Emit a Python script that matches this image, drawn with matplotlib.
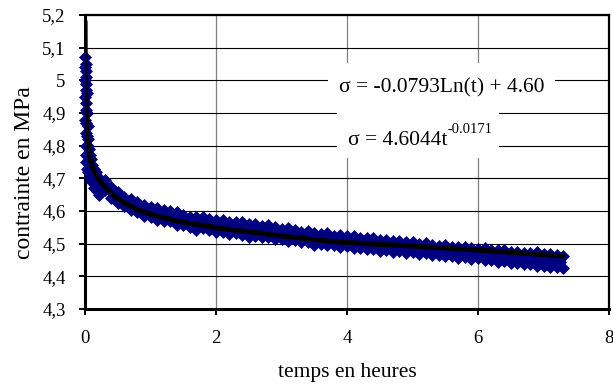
import matplotlib
matplotlib.use('Agg')
import matplotlib.pyplot as plt
from matplotlib.patches import Rectangle
from matplotlib.ticker import FuncFormatter, MultipleLocator

plt.rcParams['font.family'] = ['Liberation Serif', 'DejaVu Serif']

# measured stress (MPa) vs time (hours), read off the chart
# first minutes: steep drop near t = 0
T_START = [0.00, 0.01, 0.00, 0.02, 0.01, 0.00, 0.02, 0.01, 0.03, 0.00, 0.02, 0.01,
           0.03, 0.00, 0.02, 0.04, 0.01, 0.03, 0.05, 0.02, 0.04, 0.06, 0.01, 0.03,
           0.07, 0.02, 0.05, 0.09, 0.03, 0.07, 0.11, 0.05, 0.09, 0.13, 0.08, 0.12,
           0.16, 0.11, 0.15, 0.19, 0.14, 0.18, 0.22, 0.18, 0.22, 0.26, 0.22, 0.26]
S_START = [5.07, 5.05, 5.04, 5.03, 5.01, 5.00, 4.99, 4.97, 4.96, 4.95, 4.93, 4.91,
           4.90, 4.88, 4.87, 4.86, 4.84, 4.83, 4.82, 4.80, 4.80, 4.79, 4.77, 4.77,
           4.77, 4.75, 4.75, 4.76, 4.73, 4.74, 4.74, 4.72, 4.72, 4.73, 4.70, 4.71,
           4.72, 4.69, 4.69, 4.70, 4.67, 4.68, 4.70, 4.66, 4.67, 4.69, 4.65, 4.66]

# rest of the test: upper edge, lower edge and middle of the point cloud
T_EDGE = [0.3, 0.4, 0.5, 0.6, 0.7, 0.8, 0.9, 1.0, 1.1, 1.2, 1.3, 1.4, 1.5, 1.6, 1.7,
          1.8, 1.9, 2.0, 2.1, 2.2, 2.3, 2.4, 2.5, 2.6, 2.7, 2.8, 2.9, 3.0, 3.1, 3.2,
          3.3, 3.4, 3.5, 3.6, 3.7, 3.8, 3.9, 4.0, 4.1, 4.2, 4.3, 4.4, 4.5, 4.6, 4.7,
          4.8, 4.9, 5.0, 5.1, 5.2, 5.3, 5.4, 5.5, 5.6, 5.7, 5.8, 5.9, 6.0, 6.1, 6.2,
          6.3, 6.4, 6.5, 6.6, 6.7, 6.8, 6.9, 7.0, 7.1, 7.2, 7.3]
S_HIGH = [4.695, 4.673, 4.659, 4.642, 4.637, 4.629, 4.617, 4.612, 4.610, 4.602,
          4.599, 4.597, 4.589, 4.583, 4.583, 4.583, 4.575, 4.573, 4.573, 4.565,
          4.566, 4.566, 4.559, 4.560, 4.553, 4.556, 4.551, 4.546, 4.547, 4.542,
          4.537, 4.540, 4.534, 4.530, 4.532, 4.525, 4.526, 4.522, 4.523, 4.517,
          4.517, 4.518, 4.512, 4.512, 4.508, 4.509, 4.504, 4.504, 4.500, 4.502,
          4.497, 4.494, 4.496, 4.491, 4.490, 4.491, 4.486, 4.485, 4.486, 4.481,
          4.480, 4.481, 4.476, 4.476, 4.472, 4.472, 4.473, 4.468, 4.469, 4.465,
          4.463]
S_LOW = [4.663, 4.641, 4.625, 4.615, 4.602, 4.596, 4.585, 4.583, 4.572, 4.570,
         4.568, 4.558, 4.556, 4.550, 4.543, 4.547, 4.541, 4.535, 4.537, 4.530,
         4.534, 4.527, 4.521, 4.525, 4.519, 4.521, 4.514, 4.514, 4.507, 4.511,
         4.505, 4.506, 4.497, 4.500, 4.495, 4.495, 4.489, 4.492, 4.488, 4.488,
         4.483, 4.485, 4.479, 4.481, 4.475, 4.477, 4.472, 4.473, 4.468, 4.470,
         4.464, 4.466, 4.461, 4.463, 4.457, 4.459, 4.454, 4.455, 4.450, 4.451,
         4.445, 4.447, 4.442, 4.442, 4.437, 4.438, 4.432, 4.433, 4.428, 4.429,
         4.426]
T_MID = [0.35, 0.45, 0.55, 0.65, 0.75, 0.85, 0.95, 1.05, 1.15, 1.25, 1.35, 1.45,
         1.55, 1.65, 1.75, 1.85, 1.95, 2.05, 2.15, 2.25, 2.35, 2.45, 2.55, 2.65,
         2.75, 2.85, 2.95, 3.05, 3.15, 3.25, 3.35, 3.45, 3.55, 3.65, 3.75, 3.85,
         3.95, 4.05, 4.15, 4.25, 4.35, 4.45, 4.55, 4.65, 4.75, 4.85, 4.95, 5.05,
         5.15, 5.25, 5.35, 5.45, 5.55, 5.65, 5.75, 5.85, 5.95, 6.05, 6.15, 6.25,
         6.35, 6.45, 6.55, 6.65, 6.75, 6.85, 6.95, 7.05, 7.15, 7.25]
S_MID = [4.669, 4.650, 4.635, 4.624, 4.614, 4.605, 4.598, 4.592, 4.586, 4.581,
         4.576, 4.572, 4.568, 4.564, 4.561, 4.558, 4.555, 4.552, 4.549, 4.547,
         4.544, 4.542, 4.540, 4.537, 4.535, 4.533, 4.530, 4.527, 4.525, 4.523,
         4.520, 4.517, 4.515, 4.513, 4.511, 4.508, 4.507, 4.505, 4.503, 4.500,
         4.498, 4.496, 4.494, 4.492, 4.491, 4.489, 4.488, 4.486, 4.485, 4.483,
         4.481, 4.479, 4.478, 4.476, 4.474, 4.472, 4.471, 4.468, 4.466, 4.465,
         4.462, 4.461, 4.459, 4.457, 4.455, 4.453, 4.451, 4.449, 4.447, 4.445]

# trend curve as drawn on the chart
T_FIT = [0.001, 0.003, 0.008, 0.02, 0.04, 0.08, 0.12, 0.2, 0.3, 0.45, 0.6, 0.85,
         1.1, 1.45, 2.0, 2.67, 3.2, 3.8, 4.4, 4.96, 5.5, 6.1, 6.7, 7.3]
S_FIT = [5.18, 5.08, 4.98, 4.89, 4.82, 4.76, 4.73, 4.70, 4.675, 4.645, 4.625, 4.60,
         4.585, 4.567, 4.549, 4.532, 4.519, 4.506, 4.499, 4.493, 4.487, 4.479,
         4.471, 4.462]

EQ_LOG = 'σ = -0.0793Ln(t) + 4.60'
EQ_POW = 'σ = 4.6044t'
EQ_POW_EXP = '-0.0171'

NAVY = '#000080'

fig, ax = plt.subplots(figsize=(6.13, 3.9), dpi=100)
fig.subplots_adjust(left=0.1387, right=0.9935, bottom=0.2077, top=0.9615)

# point cloud
for tt, ss in [(T_START, S_START), (T_EDGE, S_HIGH), (T_EDGE, S_LOW), (T_MID, S_MID)]:
    ax.plot(tt, ss, linestyle='none', marker='D', markersize=6.5,
            markerfacecolor=NAVY, markeredgecolor=NAVY, markeredgewidth=0.5,
            clip_on=False, zorder=3)

# trend line
ax.plot(T_FIT, S_FIT, color='black', linewidth=3.6, solid_capstyle='round', zorder=4)

ax.set_xlim(0, 8)
ax.set_ylim(4.3, 5.2)
ax.xaxis.set_major_locator(MultipleLocator(2))
ax.yaxis.set_major_locator(MultipleLocator(0.1))
ax.yaxis.set_major_formatter(FuncFormatter(lambda v, p: ('%g' % round(v, 2)).replace('.', ',')))

ax.yaxis.grid(True, color='black', linewidth=0.8, zorder=0)
ax.xaxis.grid(True, color='#808080', linewidth=0.9, zorder=0)
ax.set_axisbelow(True)

for side in ['left', 'bottom']:
    ax.spines[side].set_linewidth(2.2)
for side in ['top', 'right']:
    ax.spines[side].set_linewidth(1.6)

ax.tick_params(axis='both', direction='out', length=4, width=1.4, labelsize=13.5,
               colors='black')
ax.tick_params(axis='y', pad=10)
ax.tick_params(axis='x', pad=11)

ax.set_xlabel('temps en heures', fontsize=15.5)
ax.xaxis.set_label_coords(0.5, -0.185)
ax.set_ylabel('contrainte en MPa', fontsize=17)
ax.yaxis.set_label_coords(-0.095, 0.463)

# white label areas behind the two trend equations
ax.add_patch(Rectangle((3.71, 4.915), 3.47, 0.138, facecolor='white',
                       edgecolor='none', zorder=4.5))
ax.add_patch(Rectangle((3.85, 4.762), 2.47, 0.153, facecolor='white',
                       edgecolor='none', zorder=4.5))

ax.text(5.45, 4.978, EQ_LOG, fontsize=15.5, ha='center', va='center', zorder=5)
base = ax.text(5.53, 4.802, EQ_POW, fontsize=15.5, ha='right', va='baseline', zorder=5)
ax.annotate(EQ_POW_EXP, xy=(1, 0), xycoords=base, xytext=(0.5, 12),
            textcoords='offset points', fontsize=10.5, ha='left', va='baseline',
            zorder=5)

fig.savefig('out.png', dpi=100)
